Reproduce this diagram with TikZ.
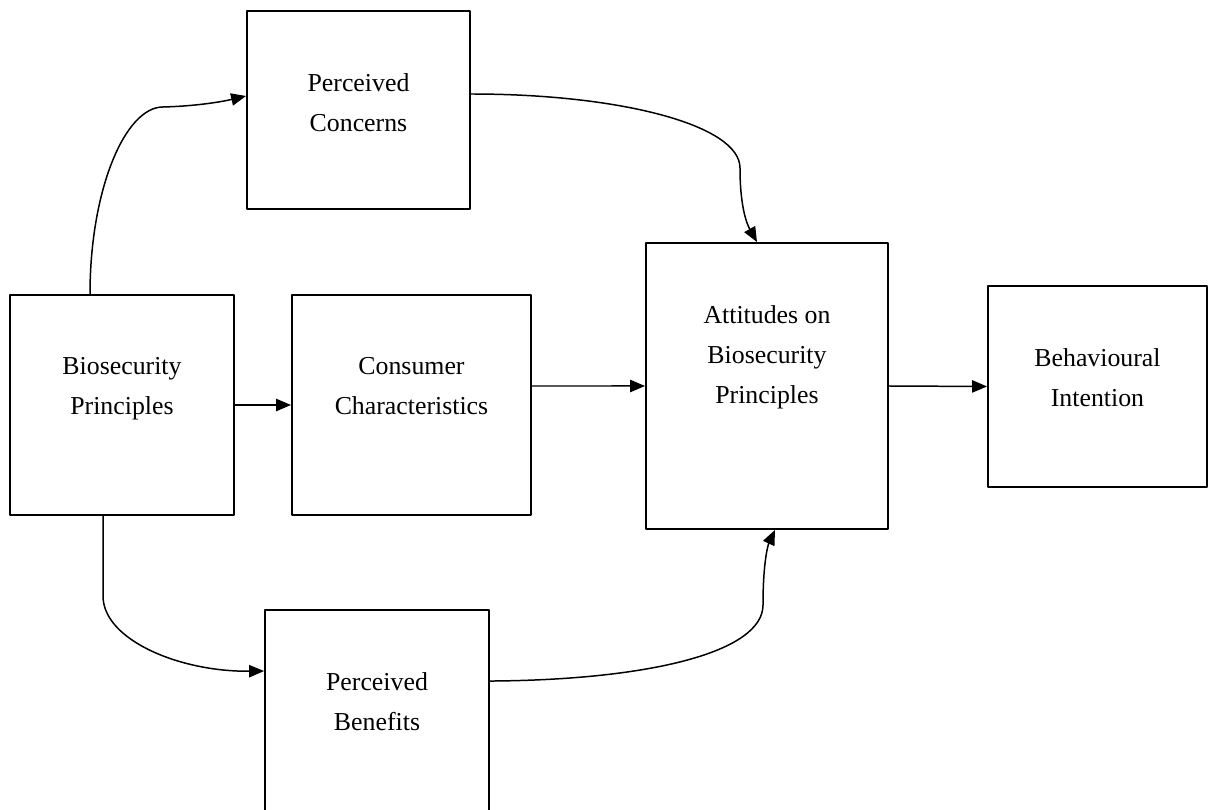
\documentclass[tikz,border=0pt]{standalone}
\usepackage{fontspec}
\setmainfont{Liberation Serif}
\usepackage{tikz}
\usetikzlibrary{positioning,arrows.meta}
\tikzset{
    % concept box (frame only, the text hangs from its top edge)
    cbox/.style = {draw, line width=1.1pt, rectangle, inner sep=0},
    % text of a concept box
    ctext/.style = {align=center, inner sep=0, font=\fontsize{14.7}{22.7}\selectfont},
    % connection style (arrows)
    cconc/.style = {draw, line width=0.85pt, -{Triangle[length=8.5pt,width=7pt]}}
}

\begin{document}
\begin{tikzpicture}[x=0.02cm, y=-0.02cm, line join=round]
\clip (0,0) rectangle (1208,810);

% boxes
\node [cbox, minimum width=4.46cm, minimum height=3.96cm] (PC) at (358.5,110) {};
\node [cbox, minimum width=4.48cm, minimum height=4.4cm] (BP) at (122,405) {};
\node [cbox, minimum width=4.78cm, minimum height=4.4cm] (CC) at (411.5,405) {};
\node [cbox, minimum width=4.84cm, minimum height=5.72cm] (AB) at (767,386) {};
\node [cbox, minimum width=4.38cm, minimum height=4.02cm] (BI) at (1097.5,386.5) {};
\node [cbox, minimum width=4.48cm, minimum height=4.4cm] (PB) at (377,720) {};

% texts
\node [ctext, below=1.26cm of PC.north] (PCt) {Perceived\\Concerns};
\node [ctext, below=1.26cm of BP.north] (BPt) {Biosecurity\\Principles};
\node [ctext, below=1.26cm of CC.north] (CCt) {Consumer\\Characteristics};
\node [ctext, below=1.26cm of AB.north] (ABt) {Attitudes on\\Biosecurity\\Principles};
\node [ctext, below=1.26cm of BI.north] (BIt) {Behavioural\\Intention};
\node [ctext, below=1.26cm of PB.north] (PBt) {Perceived\\Benefits};

% straight arrows
\draw [cconc] (BP.east) -- (CC.west);
\draw [cconc] ([yshift=0.38cm]CC.east) -- (AB.west);
\draw [cconc] (AB.east) -- (BI.west);

% curved arrows
\draw [cconc] ([xshift=-0.64cm]BP.north) .. controls (90,190) and (125,107) .. (163,107)
   .. controls (200,106) and (225,101) .. ([yshift=0.28cm]PC.west);
\draw [cconc] ([yshift=0.32cm]PC.east) .. controls (620,94) and (740,125) .. (740,168)
   .. controls (740,210) and (748,226) .. ([xshift=-0.2cm]AB.north);
\draw [cconc] ([xshift=-0.38cm]BP.south) -- ++(0,80) .. controls (103,640) and (180,672) .. ([yshift=-1.24cm]PB.north west);
\draw [cconc] ([yshift=-1.44cm]PB.north east) .. controls (650,680) and (763,652) .. (763,605)
   .. controls (763,562) and (768,545) .. ([xshift=0.16cm]AB.south);

\end{tikzpicture}
\end{document}
